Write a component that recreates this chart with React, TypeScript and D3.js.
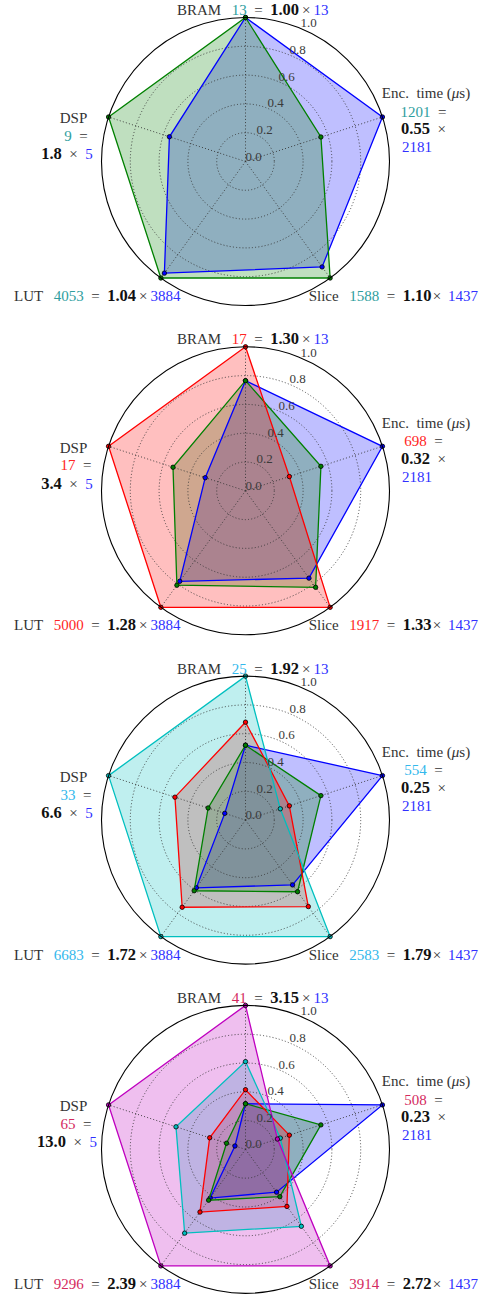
import React from "react";
import * as d3 from "d3";

// ---- data ----
const axisNames = ["BRAM", "Enc. time (μs)", "Slice", "LUT", "DSP"];
const baselineValues = [13, 2181, 1437, 3884, 5];
const design1Values = [13, 1201, 1588, 4053, 9];
const design2Values = [17, 698, 1917, 5000, 17];
const design3Values = [25, 554, 2583, 6683, 33];
const design4Values = [41, 508, 3914, 9296, 65];
const seriesValues = [baselineValues, design1Values, design2Values, design3Values, design4Values];
const seriesColors = ["#0000ff", "#008000", "#ff0000", "#00bfbf", "#bf00bf"];
const highlightColors = ["#2e9e9e", "#ff2424", "#33b8ec", "#d42a5e"];
const ratioLabels = [
  ["1.00", "0.55", "1.10", "1.04", "1.8"],
  ["1.30", "0.32", "1.33", "1.28", "3.4"],
  ["1.92", "0.25", "1.79", "1.72", "6.6"],
  ["3.15", "0.23", "2.72", "2.39", "13.0"],
];
const rTicks = [0, 0.2, 0.4, 0.6, 0.8, 1.0];
const rTickLabels = ["0.0", "0.2", "0.4", "0.6", "0.8", "1.0"];
const gridRings = [0.2, 0.4, 0.6, 0.8];

// ---- layout ----
const W = 484;
const H = 1298;
const CX = 245.5;
const CY0 = 161.5;
const DY = 329.3;
const R = 144;
const FONT = "'Liberation Serif', 'Times New Roman', serif";
const FS = 15;
const FSB = 16.5;
const TXT = "#333";
const BOLD = "#111";
const BLUE_TXT = "#3030ff";

const EN = "\u2002";
const TH = "\u2009";
const HA = "\u200A";

type Seg = { t: string; c?: string; b?: boolean; i?: boolean };

function Line({ x, y, anchor, segs }: { x: number; y: number; anchor: string; segs: Seg[] }) {
  return (
    <text
      x={x}
      y={y}
      textAnchor={anchor}
      fontFamily={FONT}
      fontSize={FS}
      style={{ whiteSpace: "pre" }}
    >
      {segs.map((s, k) => (
        <tspan
          key={k}
          fill={s.c || TXT}
          fontWeight={s.b ? "bold" : "normal"}
          fontStyle={s.i ? "italic" : "normal"}
          fontSize={s.b ? FSB : FS}
        >
          {s.t}
        </tspan>
      ))}
    </text>
  );
}

function Panel({ k }: { k: number }) {
  const cy = CY0 + DY * k;
  const shown = seriesValues.slice(0, k + 2);
  const hi = k + 1;
  const hc = highlightColors[k];
  const maxes = axisNames.map((_, j) => d3.max(shown, (s) => s[j]) as number);
  const r = d3.scaleLinear().domain([0, 1]).range([0, R]);
  const angle = d3
    .scaleLinear()
    .domain([0, axisNames.length])
    .range([0, 2 * Math.PI]);
  const pts = (vals: number[]) => vals.map((v, j) => [angle(j), r(v / maxes[j])] as [number, number]);
  const lineGen = d3.lineRadial<[number, number]>().angle((d) => d[0]).radius((d) => d[1]).curve(d3.curveLinearClosed);
  const xy = (a: number, rr: number) => [Math.sin(a) * rr, -Math.cos(a) * rr];
  const v = seriesValues[hi];
  const ratios = ratioLabels[k];
  const tickAngle = (22.5 * Math.PI) / 180;

  return (
    <g>
      <g transform={`translate(${CX},${cy})`}>
        {shown.map((s, i) => (
          <path key={"f" + i} d={lineGen(pts(s)) || ""} fill={seriesColors[i]} fillOpacity={0.25} stroke="none" />
        ))}
        {gridRings.map((g) => (
          <circle key={"g" + g} r={r(g)} fill="none" stroke="#333" strokeWidth={0.9} strokeDasharray="1,2.2" />
        ))}
        {axisNames.map((_, j) => {
          const [x2, y2] = xy(angle(j), r(1));
          return <line key={"s" + j} x1={0} y1={0} x2={x2} y2={y2} stroke="#333" strokeWidth={0.9} strokeDasharray="1,2.2" />;
        })}
        {shown.map((s, i) => (
          <g key={"l" + i}>
            <path d={lineGen(pts(s)) || ""} fill="none" stroke={seriesColors[i]} strokeWidth={1.3} strokeLinejoin="miter" />
            {pts(s).map((p, j) => {
              const [x, y] = xy(p[0], p[1]);
              return <circle key={j} cx={x} cy={y} r={2.2} fill={seriesColors[i]} stroke="#000" strokeWidth={0.8} />;
            })}
          </g>
        ))}
        <circle r={r(1)} fill="none" stroke="#000" strokeWidth={1.1} />
        {rTicks.map((t, m) => {
          const [x, y] = xy(tickAngle, r(t));
          return (
            <text key={"t" + m} x={x} y={y - 1} fontFamily={FONT} fontSize={13} fill="#3a3a3a">
              {rTickLabels[m]}
            </text>
          );
        })}
      </g>
      <Line
        x={177}
        y={cy - 146.5}
        anchor="start"
        segs={[
          { t: "BRAM" + EN + TH },
          { t: String(v[0]), c: hc },
          { t: EN + "=" + EN },
          { t: ratios[0], c: BOLD, b: true },
          { t: TH + "×" + TH },
          { t: String(baselineValues[0]), c: BLUE_TXT },
        ]}
      />
      <Line x={426} y={cy - 63.2} anchor="middle" segs={[{ t: "Enc." + EN + "time (" }, { t: "μ", i: true }, { t: "s)" }]} />
      <Line x={423.5} y={cy - 44.8} anchor="middle" segs={[{ t: String(v[1]), c: hc }, { t: EN + "=" }]} />
      <Line x={423.5} y={cy - 27.2} anchor="middle" segs={[{ t: ratios[1], c: BOLD, b: true }, { t: EN + "×" }]} />
      <Line x={402} y={cy - 9.2} anchor="start" segs={[{ t: String(baselineValues[1]), c: BLUE_TXT }]} />
      <Line
        x={478}
        y={cy + 139.5}
        anchor="end"
        segs={[
          { t: "Slice" + EN + TH },
          { t: String(v[2]), c: hc },
          { t: EN + "=" + EN },
          { t: ratios[2], c: BOLD, b: true },
          { t: HA + "×" + TH + " " },
          { t: String(baselineValues[2]), c: BLUE_TXT },
        ]}
      />
      <Line
        x={14}
        y={cy + 139.5}
        anchor="start"
        segs={[
          { t: "LUT" + EN + TH },
          { t: String(v[3]), c: hc },
          { t: EN + "=" + EN },
          { t: ratios[3], c: BOLD, b: true },
          { t: TH + "×" + TH },
          { t: String(baselineValues[3]), c: BLUE_TXT },
        ]}
      />
      <Line x={73.5} y={cy - 38.2} anchor="middle" segs={[{ t: "DSP" }]} />
      <Line x={76} y={cy - 20.5} anchor="middle" segs={[{ t: String(v[4]), c: hc }, { t: EN + "=" }]} />
      <Line
        x={67}
        y={cy - 2.2}
        anchor="middle"
        segs={[{ t: ratios[4], c: BOLD, b: true }, { t: EN + "×" + EN }, { t: String(baselineValues[4]), c: BLUE_TXT }]}
      />
    </g>
  );
}

export default function App() {
  return (
    <svg
      width={W}
      height={H}
      viewBox={`0 0 ${W} ${H}`}
      style={{ position: "absolute", left: 0, top: 0, background: "#fff" }}
    >
      <rect x={0} y={0} width={W} height={H} fill="#fff" />
      {[0, 1, 2, 3].map((k) => (
        <Panel key={k} k={k} />
      ))}
    </svg>
  );
}
